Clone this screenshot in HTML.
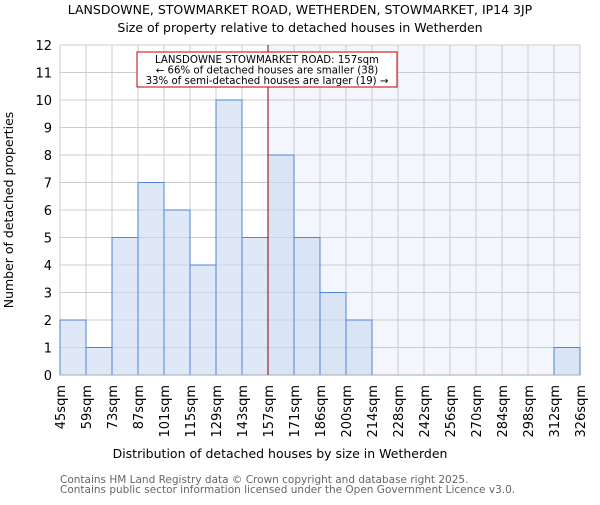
<!DOCTYPE html>
<html><head><meta charset="utf-8"><style>body{margin:0;background:#fff}svg{font-family:"DejaVu Sans","Liberation Sans",sans-serif}</style></head>
<body>
<svg id="c" width="600" height="500" xmlns="http://www.w3.org/2000/svg">
<text x="300" y="14" text-anchor="middle" font-size="12.5">LANSDOWNE, STOWMARKET ROAD, WETHERDEN, STOWMARKET, IP14 3JP</text>
<text x="300" y="32" text-anchor="middle" font-size="12.5">Size of property relative to detached houses in Wetherden</text>
<g id="plot"></g>
<text x="280" y="458" text-anchor="middle" font-size="12.5">Distribution of detached houses by size in Wetherden</text>
<text transform="translate(13,210) rotate(-90)" text-anchor="middle" font-size="12.5">Number of detached properties</text>
<text x="60" y="483" font-size="10.5" fill="#666">Contains HM Land Registry data © Crown copyright and database right 2025.</text>
<text x="60" y="493" font-size="10.5" fill="#666">Contains public sector information licensed under the Open Government Licence v3.0.</text>
</svg>
<script>
const categories=["45sqm","59sqm","73sqm","87sqm","101sqm","115sqm","129sqm","143sqm","157sqm","171sqm","186sqm","200sqm","214sqm","228sqm","242sqm","256sqm","270sqm","284sqm","298sqm","312sqm","326sqm"];
const counts=[2,1,5,7,6,4,10,5,8,5,3,2,0,0,0,0,0,0,0,1];
const yTicks=[0,1,2,3,4,5,6,7,8,9,10,11,12];
const markerIndex=8;
const L=60,R=580,T=45,B=375,yMax=12;
const ns="http://www.w3.org/2000/svg";
const g=document.getElementById('plot');
const bw=(R-L)/counts.length;
const x=i=>L+i*bw;
const y=v=>B-(v/yMax)*(B-T);
function mk(t,a){const e=document.createElementNS(ns,t);for(const k in a)e.setAttribute(k,a[k]);g.appendChild(e);return e;}
let e=mk('rect',{x:x(markerIndex),y:T,width:R-x(markerIndex),height:B-T,fill:'#f3f6fd'});


yTicks.forEach(v=>{let l=mk('line',{x1:L,x2:R,y1:y(v),y2:y(v),stroke:'#ccc'});


let t=mk('text',{x:L-8,y:y(v)+5,'text-anchor':'end','font-size':'13'});t.textContent=v;

});
categories.forEach((c,i)=>{let l=mk('line',{x1:x(i),x2:x(i),y1:T,y2:B,stroke:'#ccc'});


let t=mk('text',{transform:`translate(${x(i)+5},${B+10}) rotate(-90)`,'text-anchor':'end','font-size':'13'});t.textContent=c;

});
counts.forEach((v,i)=>{if(v<=0)return;let r=mk('rect',{x:x(i),y:y(v),width:bw,height:B-y(v),fill:'rgba(200,216,240,0.6)',stroke:'#4f86d4','stroke-width':1});

});
e=mk('line',{x1:L,x2:R,y1:B,y2:B,stroke:'#aaa'});


e=mk('line',{x1:x(markerIndex),x2:x(markerIndex),y1:T,y2:B,stroke:'#8b0000','stroke-width':1});


e=mk('rect',{x:137,y:52,width:260,height:35,fill:'#fff',stroke:'#c00000'});


["LANSDOWNE STOWMARKET ROAD: 157sqm","← 66% of detached houses are smaller (38)","33% of semi-detached houses are larger (19) →"].forEach((s,k)=>{let t=mk('text',{x:267,y:63+k*10.5,'text-anchor':'middle','font-size':'10.2'});t.textContent=s;

});
</script>
</body></html>
